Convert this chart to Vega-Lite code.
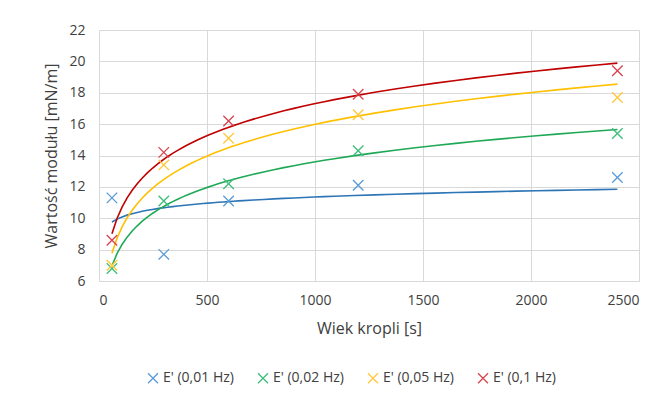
{
  "$schema": "https://vega.github.io/schema/vega-lite/v6.json",
  "width": 540,
  "height": 251,
  "autosize": {"type": "none"},
  "padding": {"left": 99, "top": 30, "right": 13, "bottom": 117},
  "background": "white",
  "data": {
    "values": [
      {"seria": "E' (0,01 Hz)", "wiek": 60, "wartosc": 11.3},
      {"seria": "E' (0,01 Hz)", "wiek": 300, "wartosc": 7.7},
      {"seria": "E' (0,01 Hz)", "wiek": 600, "wartosc": 11.1},
      {"seria": "E' (0,01 Hz)", "wiek": 1200, "wartosc": 12.1},
      {"seria": "E' (0,01 Hz)", "wiek": 2400, "wartosc": 12.6},
      {"seria": "E' (0,02 Hz)", "wiek": 60, "wartosc": 6.8},
      {"seria": "E' (0,02 Hz)", "wiek": 300, "wartosc": 11.1},
      {"seria": "E' (0,02 Hz)", "wiek": 600, "wartosc": 12.2},
      {"seria": "E' (0,02 Hz)", "wiek": 1200, "wartosc": 14.3},
      {"seria": "E' (0,02 Hz)", "wiek": 2400, "wartosc": 15.4},
      {"seria": "E' (0,05 Hz)", "wiek": 60, "wartosc": 7.0},
      {"seria": "E' (0,05 Hz)", "wiek": 300, "wartosc": 13.4},
      {"seria": "E' (0,05 Hz)", "wiek": 600, "wartosc": 15.1},
      {"seria": "E' (0,05 Hz)", "wiek": 1200, "wartosc": 16.6},
      {"seria": "E' (0,05 Hz)", "wiek": 2400, "wartosc": 17.7},
      {"seria": "E' (0,1 Hz)", "wiek": 60, "wartosc": 8.6},
      {"seria": "E' (0,1 Hz)", "wiek": 300, "wartosc": 14.2},
      {"seria": "E' (0,1 Hz)", "wiek": 600, "wartosc": 16.2},
      {"seria": "E' (0,1 Hz)", "wiek": 1200, "wartosc": 17.9},
      {"seria": "E' (0,1 Hz)", "wiek": 2400, "wartosc": 19.4}
    ]
  },
  "encoding": {
    "x": {
      "field": "wiek",
      "type": "quantitative",
      "scale": {"domain": [0, 2500], "nice": false},
      "axis": {"values": [0, 500, 1000, 1500, 2000, 2500], "format": "d", "title": "Wiek kropli [s]", "titlePadding": 13, "labelPadding": 12}
    },
    "y": {
      "field": "wartosc",
      "type": "quantitative",
      "scale": {"domain": [6, 22], "nice": false, "zero": false},
      "axis": {"values": [6, 8, 10, 12, 14, 16, 18, 20, 22], "format": "d", "title": "Wartość modułu [mN/m]", "titlePadding": 9, "labelPadding": 14}
    }
  },
  "layer": [
    {
      "transform": [{"regression": "wartosc", "on": "wiek", "groupby": ["seria"], "method": "log"}],
      "mark": {"type": "line", "strokeWidth": 1.6},
      "encoding": {
        "color": {
          "field": "seria",
          "type": "nominal",
          "scale": {"domain": ["E' (0,01 Hz)", "E' (0,02 Hz)", "E' (0,05 Hz)", "E' (0,1 Hz)"], "range": ["#2E75B6", "#1FA855", "#FFC000", "#C00000"]},
          "legend": null
        }
      }
    },
    {
      "mark": {"type": "point", "shape": "M-1,-1L1,1M-1,1L1,-1", "filled": false, "size": 110, "strokeWidth": 1.3, "opacity": 1},
      "encoding": {
        "color": {
          "field": "seria",
          "type": "nominal",
          "scale": {"domain": ["E' (0,01 Hz)", "E' (0,02 Hz)", "E' (0,05 Hz)", "E' (0,1 Hz)"], "range": ["#5B9BD5", "#3DBE7A", "#FFC83A", "#D9434E"]},
          "legend": {
            "orient": "none",
            "legendX": 47,
            "legendY": 341,
            "direction": "horizontal",
            "title": null,
            "symbolType": "M-1,-1L1,1M-1,1L1,-1",
            "symbolSize": 100,
            "symbolStrokeWidth": 1.3,
            "labelOffset": 3,
            "columnPadding": 21,
            "labelFontSize": 14
          }
        }
      }
    }
  ],
  "resolve": {"scale": {"color": "independent"}},
  "config": {
    "font": "Open Sans",
    "view": {"stroke": null},
    "axis": {
      "grid": true,
      "gridColor": "#d9d9d9",
      "gridWidth": 1,
      "domainColor": "#d9d9d9",
      "domainWidth": 1,
      "ticks": false,
      "labelFont": "Open Sans",
      "labelFontSize": 14,
      "labelColor": "#404040",
      "titleFont": "Open Sans",
      "titleFontSize": 16,
      "titleFontWeight": "normal",
      "titleColor": "#404040"
    },
    "legend": {
      "labelFont": "Open Sans",
      "labelColor": "#404040",
      "padding": 0
    }
  }
}
